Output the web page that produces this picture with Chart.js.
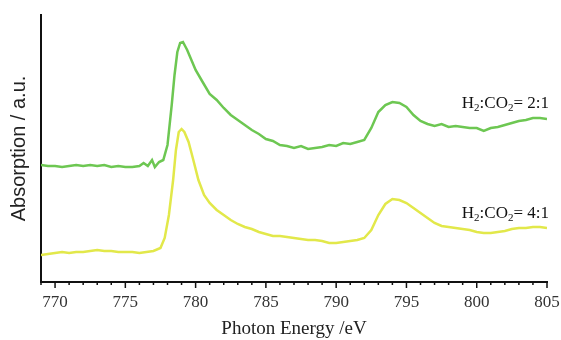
<!DOCTYPE html>
<html>
<head>
<meta charset="utf-8">
<script src="https://cdn.jsdelivr.net/npm/chart.js@4"></script>
<style>
  html, body { margin: 0; padding: 0; background: #fff; }
  #wrap { width: 561px; height: 340px; }
</style>
</head>
<body>
<div id="wrap"><canvas id="xas"></canvas></div>
<script>
// Photon energy (eV) and absorption (a.u.)
const energiaVerde = [769,769.5,770,770.5,771,771.5,772,772.5,773,773.5,774,774.5,775,775.5,776,776.3,776.6,776.9,777.1,777.4,777.7,778,778.3,778.5,778.7,778.9,779.1,779.4,779.7,780,780.5,781,781.5,782,782.5,783,783.5,784,784.5,785,785.5,786,786.5,787,787.5,788,788.5,789,789.5,790,790.5,791,791.5,792,792.5,793,793.5,794,794.5,795,795.5,796,796.5,797,797.5,798,798.5,799,799.5,800,800.5,801,801.5,802,802.5,803,803.5,804,804.5,805];
const absVerde = [1.17,1.16,1.16,1.15,1.16,1.17,1.16,1.17,1.16,1.17,1.15,1.16,1.15,1.15,1.16,1.19,1.16,1.22,1.15,1.20,1.22,1.37,1.77,2.07,2.30,2.39,2.40,2.32,2.22,2.12,2.00,1.88,1.82,1.74,1.67,1.62,1.57,1.52,1.48,1.43,1.41,1.37,1.36,1.34,1.36,1.33,1.34,1.35,1.37,1.36,1.39,1.38,1.40,1.42,1.54,1.70,1.77,1.80,1.79,1.75,1.67,1.61,1.58,1.56,1.58,1.55,1.56,1.55,1.54,1.54,1.51,1.54,1.55,1.57,1.59,1.61,1.62,1.64,1.64,1.63];

const energiaAmarilla = [769,769.5,770,770.5,771,771.5,772,772.5,773,773.5,774,774.5,775,775.5,776,776.5,777,777.5,777.8,778.1,778.4,778.6,778.8,779,779.2,779.5,779.8,780.2,780.6,781,781.5,782,782.5,783,783.5,784,784.5,785,785.5,786,786.5,787,787.5,788,788.5,789,789.5,790,790.5,791,791.5,792,792.5,793,793.5,794,794.5,795,795.5,796,796.5,797,797.5,798,798.5,799,799.5,800,800.5,801,801.5,802,802.5,803,803.5,804,804.5,805];
const absAmarilla = [0.27,0.28,0.29,0.30,0.29,0.30,0.30,0.31,0.32,0.31,0.31,0.30,0.30,0.30,0.29,0.30,0.31,0.34,0.44,0.67,1.02,1.32,1.50,1.53,1.50,1.40,1.24,1.02,0.87,0.79,0.72,0.67,0.62,0.58,0.55,0.53,0.50,0.48,0.46,0.46,0.45,0.44,0.43,0.42,0.42,0.41,0.39,0.39,0.40,0.41,0.42,0.44,0.52,0.67,0.78,0.83,0.82,0.79,0.74,0.69,0.64,0.59,0.56,0.55,0.54,0.53,0.52,0.50,0.49,0.49,0.50,0.51,0.53,0.54,0.54,0.55,0.55,0.54];

const ticksX = [770,775,780,785,790,795,800,805];
// labels: [ratio text, y position in data units]
const etiquetas = ["2:1", "4:1"];
const etiquetasY = [1.74, 0.64];

function puntos(xs, ys) {
  return xs.map((x, i) => ({ x: x, y: ys[i] }));
}

// minor + major tick marks below the x axis
const marcasX = {
  id: 'marcasX',
  afterDraw(chart) {
    const ctx = chart.ctx;
    const sx = chart.scales.x;
    const base = chart.chartArea.bottom;
    ctx.save();
    ctx.strokeStyle = '#111';
    ctx.lineWidth = 1.5;
    for (let v = 769; v <= 805; v++) {
      const px = sx.getPixelForValue(v);
      const len = v % 5 === 0 ? 6 : 3;
      ctx.beginPath();
      ctx.moveTo(px, base);
      ctx.lineTo(px, base + len);
      ctx.stroke();
    }
    ctx.restore();
  }
};

// "H2:CO2= x:1" labels with subscripts
const rotulos = {
  id: 'rotulos',
  afterDatasetsDraw(chart) {
    const ctx = chart.ctx;
    const sx = chart.scales.x, sy = chart.scales.y;
    const grande = '17px "Liberation Serif", "Times New Roman", serif';
    const chico = '11px "Liberation Serif", "Times New Roman", serif';
    ctx.save();
    ctx.fillStyle = '#111';
    ctx.textBaseline = 'alphabetic';
    etiquetas.forEach((txt, i) => {
      const trozos = [['H', grande, 0], ['2', chico, 3], [':CO', grande, 0], ['2', chico, 3], ['= ' + txt, grande, 0]];
      let ancho = 0;
      trozos.forEach(t => { ctx.font = t[1]; ancho += ctx.measureText(t[0]).width; });
      let x = sx.getPixelForValue(805) + 2 - ancho;
      const y = sy.getPixelForValue(etiquetasY[i]);
      trozos.forEach(t => {
        ctx.font = t[1];
        ctx.fillText(t[0], x, y + t[2]);
        x += ctx.measureText(t[0]).width;
      });
    });
    ctx.restore();
  }
};

new Chart(document.getElementById('xas'), {
  type: 'line',
  data: {
    datasets: [{
      label: 'H2:CO2= 2:1',
      data: puntos(energiaVerde, absVerde),
      borderColor: '#6dc752',
      borderWidth: 2.5,
      pointRadius: 0,
      tension: 0
    }, {
      label: 'H2:CO2= 4:1',
      data: puntos(energiaAmarilla, absAmarilla),
      borderColor: '#e2e84a',
      borderWidth: 2.5,
      pointRadius: 0,
      tension: 0
    }]
  },
  options: {
    responsive: true,
    maintainAspectRatio: false,
    animation: false,
    layout: { padding: { top: 15, right: 14, left: 0, bottom: 0 } },
    plugins: {
      legend: { display: false },
      tooltip: { enabled: false }
    },
    scales: {
      x: {
        type: 'linear',
        min: 769,
        max: 805,
        afterBuildTicks: s => { s.ticks = ticksX.map(v => ({ value: v })); },
        afterFit: s => { s.height = 58; s.paddingLeft = 0; s.paddingRight = 0; },
        grid: { display: false, drawTicks: false },
        border: { display: true, color: '#111', width: 2 },
        ticks: {
          padding: 10,
          color: '#333',
          font: { family: '"Liberation Serif", "Times New Roman", serif', size: 17 }
        },
        title: {
          display: true,
          text: 'Photon Energy /eV',
          color: '#222',
          padding: { top: 0, bottom: 0 },
          font: { family: '"Liberation Serif", "Times New Roman", serif', size: 19 }
        }
      },
      y: {
        min: 0,
        max: 2.67,
        afterFit: s => { s.width = 41; },
        grid: { display: false, drawTicks: false },
        border: { display: true, color: '#111', width: 2 },
        ticks: { display: false },
        title: {
          display: true,
          text: 'Absorption / a.u.',
          color: '#222',
          padding: { top: 7, bottom: 0 },
          font: { family: '"Liberation Sans", Arial, sans-serif', size: 20 }
        }
      }
    }
  },
  plugins: [marcasX, rotulos]
});
</script>
</body>
</html>
